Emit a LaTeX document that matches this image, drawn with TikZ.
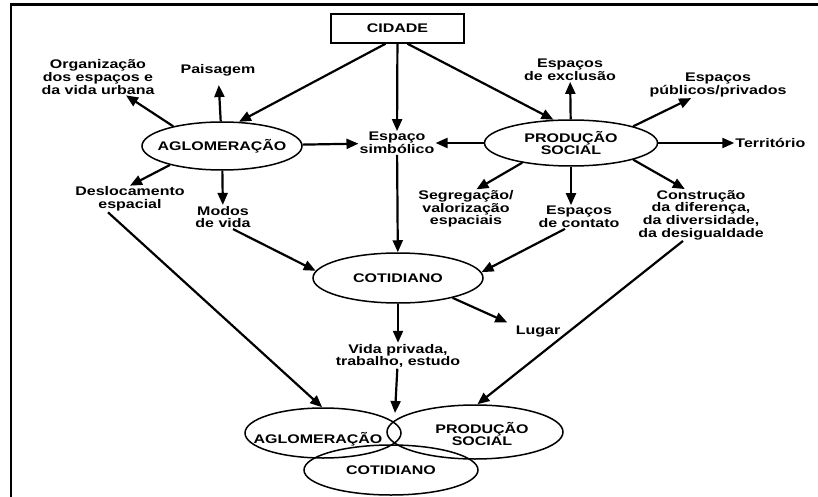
\documentclass[tikz,border=0pt]{standalone}
\usepackage{fontspec}
\setmainfont{Liberation Sans}[FakeStretch=1.28]
\usetikzlibrary{
  	positioning,
  	arrows.meta,
  	shapes.geometric
  }

\tikzset{
  bubble/.style={draw, ellipse, line width=1.5pt, inner sep=0pt},
  tag/.style={align=center, inner sep=1pt},
  arr/.style={line width=2.2pt, -{Triangle[length=12pt,width=10pt]}}
}

\begin{document}
\begin{tikzpicture}[x=1pt, y=-1pt, font=\bfseries\fontsize{12.5}{12.6}\selectfont, every label/.style={align=center}]
	\useasboundingbox (0,0) rectangle (818,497);
	\draw[line width=2.2pt] (11,497) -- (11,4.5) -- (818,4.5);
%
	\node[draw, line width=1.5pt, minimum width=133pt, minimum height=29pt] (cidade) at (397.5,28.5) {CIDADE};
	\node[tag] (simb) at (397,143) {Espaço\\simbólico};
	\node[bubble, minimum width=160pt, minimum height=48pt, label=center:AGLOMERAÇÃO] (aglo) at (222,146) {};
	\node[bubble, minimum width=173pt, minimum height=46pt, label={center:PRODUÇÃO\\SOCIAL}] (prod) at (571,143) {};
	\node[bubble, minimum width=170pt, minimum height=50pt, label=center:COTIDIANO] (cot) at (398,278) {};
%
	\node[tag] (org) at (98,77) {Organização\\dos espaços e\\da vida urbana};
	\node[tag] (pais) at (218,70) {Paisagem};
	\node[tag] (desl) at (130,199) {Deslocamento\\espacial};
	\node[tag] (modos) at (223,217) {Modos\\de vida};
%
	\node[tag] (excl) at (570,70) {Espaços\\de exclusão};
	\node[tag] (pub) at (718,85) {Espaços\\públicos/privados};
	\node[tag, right=76pt of prod] (terr) {Território};
	\node[tag] (seg) at (466,209) {Segregação/\\valorização\\espaciais};
	\node[tag] (cont) at (579,217) {Espaços\\de contato};
	\node[tag] (constr) at (701,215) {Construção\\da diferença,\\da diversidade,\\da desigualdade};
%
	\node[tag, below=39pt of cot] (vida) {Vida privada,\\trabalho, estudo};
	\node[tag] (lugar) at (538,332) {Lugar};
	\coordinate (meet) at (395,413);
%
	\node[bubble, minimum width=156pt, minimum height=50pt, label={[xshift=-5pt,yshift=-6pt]center:AGLOMERAÇÃO}] (baglo) at (323,433) {};
	\node[bubble, minimum width=176pt, minimum height=54pt, label={[xshift=7pt,yshift=-2pt]center:PRODUÇÃO\\SOCIAL}] (bprod) at (475,432) {};
	\node[bubble, minimum width=174pt, minimum height=50pt, label=center:COTIDIANO] (bcot) at (391,470) {};
%
	\draw[arr] ([xshift=-12pt]cidade.south) -- (aglo.55);
	\draw[arr] (cidade) -- (simb);
	\draw[arr] ([xshift=10pt]cidade.south) -- (prod.127);
%
	\draw[arr] (aglo.158) -- (org);
	\draw[arr, shorten >=8pt] (aglo) -- (pais);
	\draw[arr] (aglo) -- (simb);
	\draw[arr] (aglo.200) -- (desl.north);
	\draw[arr] (aglo) -- (modos);
	\draw[arr] ([xshift=-22pt]desl.south) -- (baglo.92);
	\draw[arr] ([xshift=10pt]modos.south) -- (cot.175);
	\draw[arr] (simb) -- (cot);
%
	\draw[arr] (prod) -- (excl);
	\draw[arr] (prod.15) -- (pub);
	\draw[arr] (prod) -- (terr);
	\draw[arr] (prod) -- (simb);
	\draw[arr] (prod.-158) -- (seg.62);
	\draw[arr] (prod.south) -- (prod.south |- cont.north);
	\draw[arr] (prod.-15) -- (constr.122);
	\draw[arr] ([xshift=-14pt]cont.south) -- (cot.4);
	\draw[arr] ([xshift=-18pt]constr.south) -- (bprod.85);
%
	\draw[arr] (cot) -- (vida);
	\draw[arr, shorten >=8pt] (cot.-20) -- (lugar.165);
	\draw[arr] (vida) -- (meet);
\end{tikzpicture}
\end{document}
